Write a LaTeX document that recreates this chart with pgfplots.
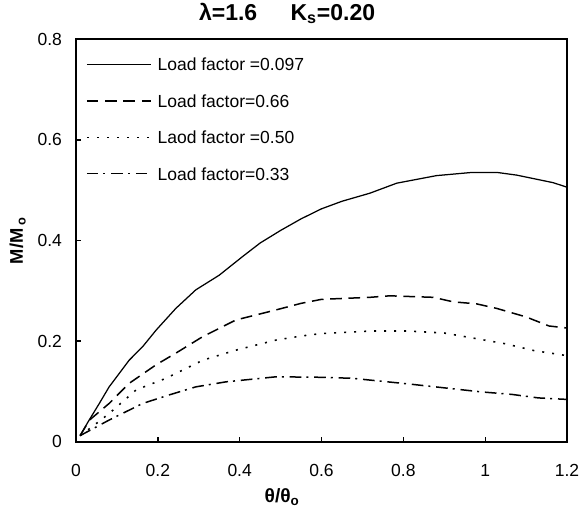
\documentclass[border=0pt]{standalone}
\usepackage{fontspec}
\setmainfont{Liberation Sans}
\usepackage{pgfplots}
\pgfplotsset{compat=1.18}

\begin{document}
\begin{tikzpicture}
\begin{axis}[
  scale only axis,
  width=294.6pt, height=241.4pt,
  xmin=0, xmax=1.2, ymin=0, ymax=0.8,
  xtick={0,0.2,0.4,0.6,0.8,1,1.2},
  ytick={0,0.2,0.4,0.6,0.8},
  tick align=inside,
  xtick pos=left, ytick pos=left,
  major tick length=3pt,
  axis line style={line width=1.1pt, black},
  tick style={line width=0.8pt, black},
  /pgf/number format/assume math mode=true,
  ticklabel style={font=\fontsize{10.5}{12}\selectfont},
  xticklabel style={yshift=-10.3pt},
  yticklabel style={xshift=-4.9pt},
  title={λ=1.6\hspace{20pt}K\textsubscript{s}=0.20},
  title style={at={(axis description cs:0.43,1.023)}, anchor=base, font=\fontsize{13.8}{16}\selectfont\bfseries},
  xlabel={θ/θ\textsubscript{o}},
  ylabel={M/M\,\textsubscript{o}},
  every axis x label/.style={at={(axis description cs:0.42,-0.151)}, anchor=base, font=\fontsize{11.5}{13}\selectfont\bfseries},
  every axis y label/.style={at={(axis description cs:-0.108,0.5)}, anchor=base, rotate=90, font=\fontsize{11}{13}\selectfont\bfseries},
  legend style={at={(axis description cs:0,1)}, anchor=north west, xshift=6pt, yshift=-11.4pt,
    draw=none, fill=none, inner sep=0pt, outer sep=0pt, row sep=14.2pt, column sep=3.6pt,
    font=\fontsize{10.5}{12}\selectfont,
    nodes={inner sep=0pt, text height=7.6pt, text depth=0pt}},
  legend cell align=left,
  legend image code/.code={\draw[#1] (0pt,0pt) -- (38.4pt,0pt);},
]
\addplot[black, line width=0.75pt] coordinates {
(0.01,0.012) (0.03,0.04) (0.057,0.076) (0.081,0.109) (0.106,0.136) (0.13,0.162)
(0.163,0.189) (0.196,0.222) (0.244,0.265) (0.293,0.302) (0.35,0.331) (0.407,0.368)
(0.45,0.395) (0.5,0.42) (0.55,0.443) (0.6,0.463) (0.65,0.478) (0.718,0.494)
(0.784,0.514) (0.881,0.529) (0.963,0.535) (1.032,0.535) (1.077,0.530) (1.166,0.515) (1.2,0.506)
};
\addlegendentry{Load factor =0.097}
\addplot[black, line width=0.9pt, dash pattern=on 7pt off 4pt] coordinates {
(0.01,0.012) (0.033,0.043) (0.081,0.076) (0.13,0.116) (0.196,0.153) (0.244,0.176)
(0.31,0.209) (0.391,0.242) (0.489,0.262) (0.55,0.275) (0.6,0.283) (0.718,0.287)
(0.767,0.290) (0.873,0.287) (0.922,0.278) (0.979,0.274) (1.028,0.265) (1.1,0.248)
(1.156,0.23) (1.2,0.226)
};
\addlegendentry{Load factor=0.66}
\addplot[black, line width=0.95pt, dash pattern=on 1.2pt off 4.8pt] coordinates {
(0.01,0.012) (0.04,0.03) (0.081,0.056) (0.147,0.103) (0.22,0.126) (0.31,0.162)
(0.391,0.182) (0.489,0.202) (0.55,0.21) (0.6,0.215) (0.72,0.22) (0.81,0.22)
(0.9,0.216) (0.956,0.208) (1.047,0.195) (1.12,0.181) (1.2,0.171)
};
\addlegendentry{Laod factor =0.50}
\addplot[black, line width=0.9pt, dash pattern=on 7pt off 3pt on 1.2pt off 3.5pt] coordinates {
(0.01,0.012) (0.081,0.043) (0.163,0.076) (0.228,0.093) (0.293,0.109) (0.367,0.119)
(0.489,0.129) (0.6,0.128) (0.675,0.126) (0.81,0.115) (0.9,0.107) (0.99,0.099)
(1.065,0.094) (1.13,0.087) (1.2,0.084)
};
\addlegendentry{Load factor=0.33}
\end{axis}
\pgfresetboundingbox
\path[use as bounding box] ([xshift=-45.6pt,yshift=-38.6pt]current axis.south west) rectangle ([xshift=9pt,yshift=23.6pt]current axis.north east);
\end{tikzpicture}
\end{document}
